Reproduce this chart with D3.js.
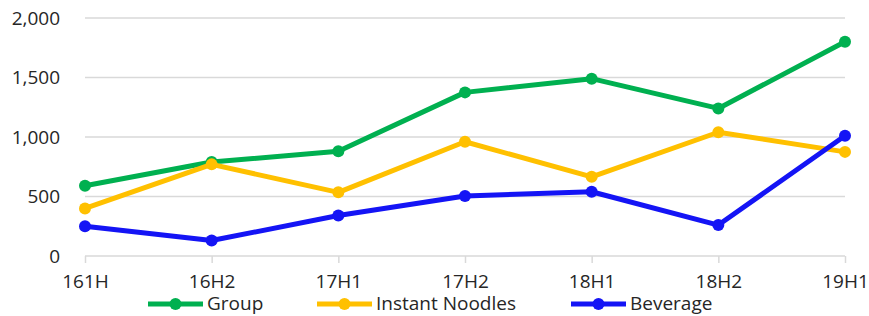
<!DOCTYPE html>
<html>
<head>
<script src="https://cdn.jsdelivr.net/npm/d3@7"></script>
<style>
  body { margin: 0; background: #fff; }
  text { font-family: "Open Sans", "Noto Sans", sans-serif; fill: #262626; }
</style>
</head>
<body>
<script>
var categories = ["161H", "16H2", "17H1", "17H2", "18H1", "18H2", "19H1"];
var groupValues = [590, 790, 880, 1375, 1490, 1240, 1800];
var noodleValues = [400, 770, 535, 960, 665, 1040, 875];
var beverageValues = [250, 130, 340, 505, 540, 260, 1010];
var yTicks = [0, 500, 1000, 1500, 2000];

var seriesNames = ["Group", "Instant Noodles", "Beverage"];
var seriesColors = ["#00b050", "#ffc000", "#1414f5"];
var seriesValues = [groupValues, noodleValues, beverageValues];

var width = 869, height = 316;

var svg = d3.select("body").append("svg")
    .attr("width", width)
    .attr("height", height);

var x = d3.scalePoint()
    .domain(categories)
    .range([85, 845]);

var y = d3.scaleLinear()
    .domain([0, 2000])
    .range([256, 18]);

// gridlines
svg.append("g")
  .selectAll("line")
  .data(yTicks)
  .enter().append("line")
    .attr("x1", 85)
    .attr("x2", 845)
    .attr("y1", function(d) { return y(d); })
    .attr("y2", function(d) { return y(d); })
    .attr("stroke", "#d9d9d9")
    .attr("stroke-width", 1.5);

// y labels
svg.append("g")
  .selectAll("text")
  .data(yTicks)
  .enter().append("text")
    .attr("x", 60)
    .attr("y", function(d) { return y(d); })
    .attr("dy", "0.35em")
    .attr("text-anchor", "end")
    .style("font-size", "19px")
    .text(function(d) { return d3.format(",")(d); });

// x axis
var xAxis = svg.append("g")
    .attr("transform", "translate(0," + y(0) + ")")
    .call(d3.axisBottom(x).tickSize(7).tickPadding(12));
xAxis.select(".domain").remove();
xAxis.selectAll(".tick line").attr("stroke", "#d9d9d9").attr("stroke-width", 1.5);
xAxis.selectAll(".tick text")
    .style("font-size", "19px")
    .style("font-family", "'Open Sans', 'Noto Sans', sans-serif")
    .attr("fill", "#262626");

var line = d3.line()
    .x(function(d, i) { return x(categories[i]); })
    .y(function(d) { return y(d); });

seriesValues.forEach(function(vals, s) {
  var g = svg.append("g");
  g.append("path")
    .datum(vals)
    .attr("d", line)
    .attr("fill", "none")
    .attr("stroke", seriesColors[s])
    .attr("stroke-width", 5)
    .attr("stroke-linejoin", "round");
  g.selectAll("circle")
    .data(vals)
    .enter().append("circle")
      .attr("cx", function(d, i) { return x(categories[i]); })
      .attr("cy", function(d) { return y(d); })
      .attr("r", 6)
      .attr("fill", seriesColors[s]);
});

// legend
var legendX = [148, 317, 571];
var legend = svg.append("g")
  .selectAll("g")
  .data(seriesNames)
  .enter().append("g")
    .attr("transform", function(d, i) { return "translate(" + legendX[i] + ",304)"; });

legend.append("line")
    .attr("x1", 0).attr("x2", 55)
    .attr("stroke", function(d, i) { return seriesColors[i]; })
    .attr("stroke-width", 5);
legend.append("circle")
    .attr("cx", 27.5)
    .attr("r", 6)
    .attr("fill", function(d, i) { return seriesColors[i]; });
legend.append("text")
    .attr("x", 59)
    .attr("y", 6)
    .style("font-size", "19px")
    .text(function(d) { return d; });
</script>
</body>
</html>
